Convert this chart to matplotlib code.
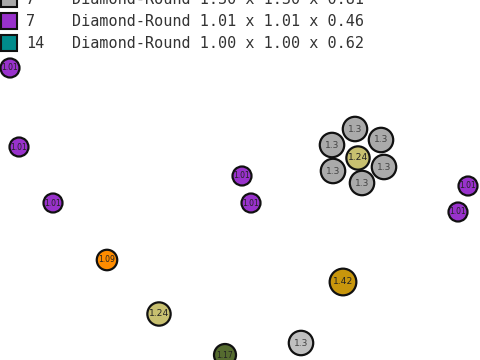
"""Diamond bubble layout with a cut-off legend on top."""
import matplotlib
matplotlib.use("Agg")
import matplotlib.pyplot as plt
from matplotlib.patches import Rectangle

# legend rows (first one is partly cut off by the top edge)
LEG_COUNTS = ["7", "7", "14"]
LEG_TEXT = ["Diamond-Round 1.30 x 1.30 x 0.81",
            "Diamond-Round 1.01 x 1.01 x 0.46",
            "Diamond-Round 1.00 x 1.00 x 0.62"]
LEG_COLORS = ["#aaaaaa", "#9932cc", "#008b8b"]

# stones: pixel position, carat, fill
X = [10, 19, 53, 107, 242, 251, 355, 332, 381, 358, 333, 384, 362,
     468, 458, 343, 159, 301, 225]
Y = [68, 147, 203, 260, 176, 203, 129, 145, 140, 158, 171, 167, 183,
     186, 212, 282, 314, 343, 355]
CARAT = [1.01, 1.01, 1.01, 1.09, 1.01, 1.01, 1.3, 1.3, 1.3, 1.24, 1.3, 1.3, 1.3,
         1.01, 1.01, 1.42, 1.24, 1.3, 1.17]
COLORS = ["#9932cc", "#9932cc", "#9932cc", "#ff8c00", "#9932cc", "#9932cc",
          "#aaaaaa", "#aaaaaa", "#aaaaaa", "#c8c070", "#aaaaaa", "#aaaaaa", "#aaaaaa",
          "#9932cc", "#9932cc", "#c8960c", "#c8c070", "#c0c0c0", "#556b2f"]

fig = plt.figure(figsize=(4.8, 3.6), dpi=100)
ax = fig.add_axes([0, 0, 1, 1])
ax.set_xlim(0, 480)
ax.set_ylim(360, 0)
ax.axis("off")

# marker diameter grows with carat (px -> pt at 100 dpi)
sizes = [(2 * c * 9.4 * 0.72) ** 2 for c in CARAT]
ax.scatter(X, Y, s=sizes, c=COLORS, edgecolors="#111111", linewidths=1.6, zorder=3)
for x, y, c, col in zip(X, Y, CARAT, COLORS):
    txt = f"{c:g}"
    fs = 6.6 if c > 1.2 else 5.5
    ax.text(x, y, txt, ha="center", va="center", fontsize=fs,
            color="#444444" if col in ("#aaaaaa", "#c0c0c0") else "#222222", zorder=4)

for i, (n, lab, col) in enumerate(zip(LEG_COUNTS, LEG_TEXT, LEG_COLORS)):
    yc = -1 + 22 * i
    ax.add_patch(Rectangle((0.5, yc - 8), 16, 16, facecolor=col,
                           edgecolor="#111111", lw=1.5, zorder=3))
    ax.text(26, yc, n, ha="left", va="center", fontsize=10.9,
            family="DejaVu Sans Mono", color="#333333")
    ax.text(72, yc, lab, ha="left", va="center", fontsize=10.9,
            family="DejaVu Sans Mono", color="#333333")

fig.savefig("out.png", dpi=100)
